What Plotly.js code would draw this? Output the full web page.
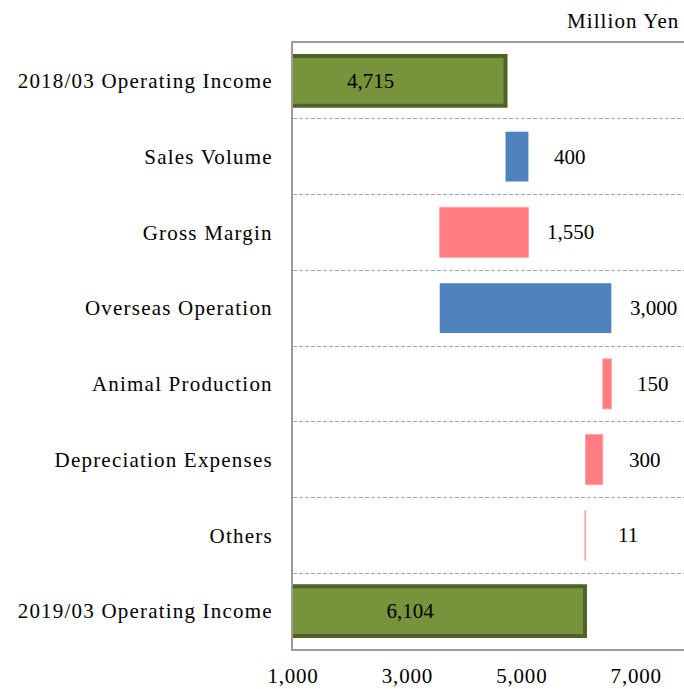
<!DOCTYPE html>
<html>
<head>
<meta charset="utf-8">
<script src="https://cdn.plot.ly/plotly-3.0.1.min.js"></script>
<style>
html,body{margin:0;padding:0;background:#fff;}
#chart{width:684px;height:689px;}
#chart .ytick text{letter-spacing:1.2px;}
#chart .xtick text{letter-spacing:0.8px;}
#chart .annotation.unit text{letter-spacing:1.1px;}
</style>
</head>
<body>
<div id="chart"></div>
<script>
const categories = ["2018/03 Operating Income","Sales Volume","Gross Margin","Overseas Operation","Animal Production","Depreciation Expenses","Others","2019/03 Operating Income"];
const measures = ["absolute","relative","relative","relative","relative","relative","relative","total"];
const values = [4715, 400, -1550, 3000, -150, -300, -11, 0];
const tickValues = [1000, 3000, 5000, 7000];
const unitLabel = "Million Yen";

const fmt = v => Math.abs(v).toLocaleString("en-US");
const FONT = "Liberation Serif, Times New Roman, serif";

let run = 0;
const texts = [], textpos = [], anns = [];
values.forEach((v, i) => {
  const m = measures[i];
  if (m === "absolute") { run = v; texts.push(fmt(v)); textpos.push("inside"); }
  else if (m === "total") { texts.push(fmt(run)); textpos.push("inside"); }
  else {
    const start = run; run += v;
    texts.push(""); textpos.push("none");
    anns.push({x: Math.max(start, run), y: categories[i], xref: "x", yref: "y",
      text: fmt(v), showarrow: false, xanchor: "center", xshift: 42,
      font: {family: FONT, size: 21, color: "#000"}});
  }
});

anns.push({xref: "paper", yref: "paper", x: 1, y: 1, xanchor: "right", yanchor: "bottom",
  xshift: -8, yshift: 8, text: unitLabel, showarrow: false,
  font: {family: FONT, size: 21, color: "#000"}});

const trace = {
  type: "waterfall", orientation: "h",
  y: categories, x: values, measure: measures,
  text: texts, textposition: textpos, textinfo: "text",
  insidetextanchor: "middle",
  textfont: {family: FONT, size: 21, color: "#000"},
  insidetextfont: {family: FONT, size: 21, color: "#000"},
  width: 0.66,
  connector: {visible: false},
  increasing: {marker: {color: "#4F81BD", line: {width: 0}}},
  decreasing: {marker: {color: "#FF7C80", line: {color: "#FF9EA1", width: 1}}},
  totals: {marker: {color: "#77933C", line: {color: "#4F6228", width: 4}}},
  hoverinfo: "none", cliponaxis: false
};

const layout = {
  width: 684, height: 689,
  margin: {l: 293, r: 0, t: 43, b: 40},
  paper_bgcolor: "#fff", plot_bgcolor: "#fff",
  showlegend: false,
  font: {family: FONT, size: 21, color: "#000"},
  xaxis: {range: [1000, 7835], tickvals: tickValues, tickformat: ",d",
    showgrid: false, zeroline: false, showline: true, mirror: true,
    linecolor: "#9C9C9C", linewidth: 2, ticks: "", ticklabelstandoff: 7,
    tickfont: {family: FONT, size: 21, color: "#000"}},
  yaxis: {type: "category", autorange: "reversed", tickson: "boundaries",
    showgrid: true, gridcolor: "#A6A6A6", griddash: "4px,2px", gridwidth: 1,
    showline: true, linecolor: "#9C9C9C", linewidth: 2, zeroline: false,
    ticks: "", ticklabelstandoff: 14,
    tickfont: {family: FONT, size: 21, color: "#000"}},
  annotations: anns
};

Plotly.newPlot("chart", [trace], layout, {staticPlot: true, displayModeBar: false}).then(() => {
  const a = document.querySelectorAll("#chart .annotation");
  if (a.length) a[a.length - 1].classList.add("unit");
});
</script>
</body>
</html>
